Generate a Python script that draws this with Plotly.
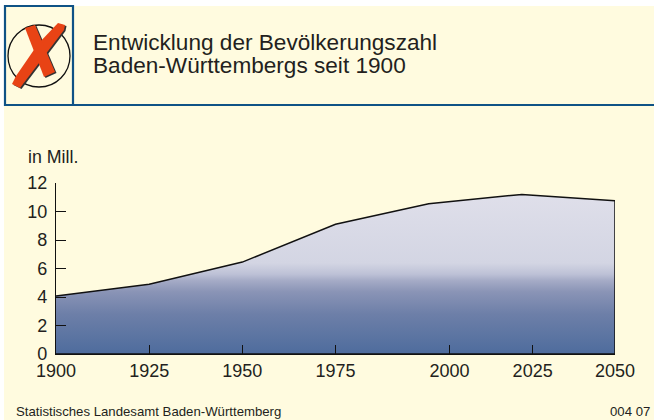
import plotly.graph_objects as go

W, H = 654, 420
years = [1900, 1925, 1950, 1975, 2000, 2025, 2050]
population = [4.07, 4.9, 6.45, 9.1, 10.55, 11.2, 10.75]
x_tick_labels = ["1900", "1925", "1950", "1975", "2000", "2025", "2050"]
x_tick_positions = [1900, 1925, 1950, 1975, 2005.6, 2027.9, 2050]
y_ticks = [0, 2, 4, 6, 8, 10, 12]

TEXT = "#231f20"
FONT = "Liberation Sans"
BLUE = "#0f5286"
CREAM = "#fffbdf"

def px(v): return v / W
def py(v): return 1 - v / H

fig = go.Figure()
fig.add_trace(go.Scatter(
    x=years + [2050, 1900], y=population + [0, 0],
    mode="lines", line=dict(color="#111111", width=1.5),
    fill="toself", hoverinfo="skip", showlegend=False,
    fillgradient=dict(
        type="vertical",
        start=0, stop=11.2,
        colorscale=[
            [0.00, "#4e6c9d"],
            [0.25, "#6d7fa8"],
            [0.39, "#8a94b6"],
            [0.46, "#a5abc6"],
            [0.50, "#bdc1d6"],
            [0.57, "#d3d5e3"],
            [1.00, "#dfdfea"],
        ],
    ),
))

def path(points):
    return "M " + " L ".join(f"{px(x):.5f},{py(y):.5f}" for x, y in points) + " Z"

stroke_a = [(12, 84), (20, 88), (64, 30), (65, 25), (58, 23), (38, 44), (16, 76)]
stroke_b = [(25, 28), (35, 25), (55, 72), (44, 77)]
shadow_a = [(x + 1.5, y + 1) for x, y in stroke_a]
shadow_b = [(x + 1.5, y + 1) for x, y in stroke_b]

shapes = [
    dict(type="rect", xref="paper", yref="paper", x0=px(4), x1=1, y0=0, y1=py(6),
         fillcolor=CREAM, line_width=0, layer="below"),
    dict(type="line", xref="paper", yref="paper", x0=px(73), x1=1, y0=py(105), y1=py(105),
         line=dict(color=BLUE, width=2.2)),
    dict(type="rect", xref="paper", yref="paper", x0=px(5), x1=px(73), y0=py(105), y1=py(6),
         line=dict(color=BLUE, width=2.2)),
    dict(type="circle", xref="paper", yref="paper", x0=px(8), x1=px(70), y0=py(87), y1=py(25),
         line=dict(color="#111111", width=1.3)),
    dict(type="path", xref="paper", yref="paper", path=path(shadow_a), fillcolor="#333333", line_width=0),
    dict(type="path", xref="paper", yref="paper", path=path(shadow_b), fillcolor="#333333", line_width=0),
    dict(type="path", xref="paper", yref="paper", path=path(stroke_a), fillcolor="#e84315", line_width=0),
    dict(type="path", xref="paper", yref="paper", path=path(stroke_b), fillcolor="#e84315", line_width=0),
]

def note(text, x, y, size, anchor="left"):
    return dict(text=text, xref="paper", yref="paper", x=px(x), y=py(y), xanchor=anchor, yanchor="middle",
                showarrow=False, font=dict(family=FONT, size=size, color=TEXT))

annotations = [
    note("Entwicklung der Bevölkerungszahl", 91, 43, 22.6),
    note("Baden-Württembergs seit 1900", 91, 65, 22.6),
    note("in Mill.", 26, 157, 17.8),
    note("Statistisches Landesamt Baden-Württemberg", 14, 411.5, 13.2),
    note("004 07", 652, 411.5, 13.2, "right"),
]

fig.update_layout(
    width=W, height=H, autosize=False,
    margin=dict(l=0, r=0, t=0, b=0),
    paper_bgcolor="white", plot_bgcolor="rgba(0,0,0,0)",
    shapes=shapes, annotations=annotations,
    xaxis=dict(domain=[px(56), px(615)], range=[1900, 2050], tickmode="array",
               tickvals=x_tick_positions, ticktext=x_tick_labels, ticks="inside", ticklen=9,
               tickwidth=1.4, tickcolor="#111111", showgrid=False, zeroline=False,
               showline=True, linecolor="#111111", linewidth=1.4, automargin=False,
               tickfont=dict(family=FONT, size=18, color=TEXT), anchor="y", ticklabelstandoff=0),
    yaxis=dict(domain=[py(354), py(183)], range=[0, 12], tickmode="array",
               tickvals=y_ticks, ticks="inside", ticklen=10,
               tickwidth=1.4, tickcolor="#111111", showgrid=False, zeroline=False,
               showline=True, linecolor="#111111", linewidth=1.4, automargin=False,
               tickfont=dict(family=FONT, size=18, color=TEXT), anchor="x", ticklabelstandoff=4),
)

fig.write_html("out.html", config={"displayModeBar": False},
               post_script="document.body.style.margin='0';")
